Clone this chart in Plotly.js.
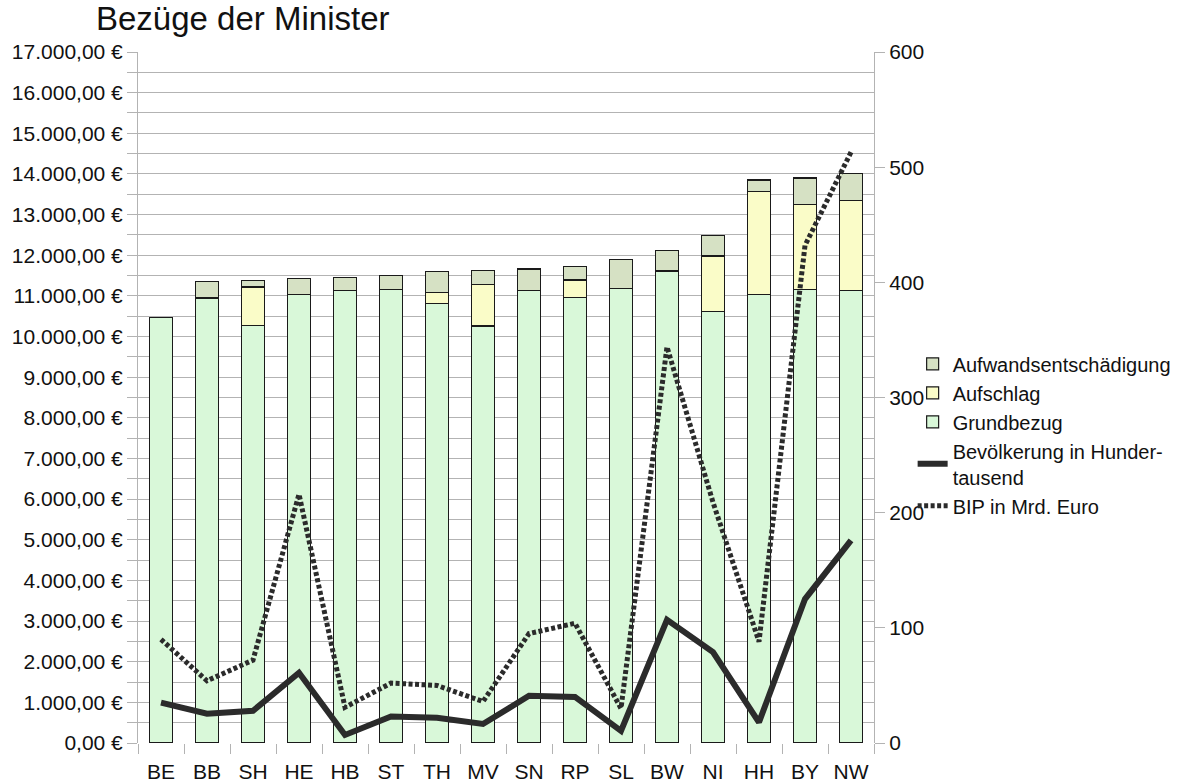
<!DOCTYPE html>
<html>
<head>
<meta charset="utf-8">
<script src="https://cdn.plot.ly/plotly-3.0.1.min.js"></script>
<style>html,body{margin:0;padding:0;background:#fff;}#chart{width:1188px;height:782px;}</style>
</head>
<body>
<div id="chart"></div>
<script>
const laender = ["BE","BB","SH","HE","HB","ST","TH","MV","SN","RP","SL","BW","NI","HH","BY","NW"];
const grundbezug = [10470,10950,10280,11040,11140,11150,10820,10260,11140,10970,11180,11610,10610,11040,11160,11130];
const aufschlag = [null,null,940,null,null,null,270,1020,null,420,null,null,1370,2530,2090,2220];
const aufwand = [null,410,150,390,320,360,510,350,520,330,710,510,500,280,650,660];
const bevoelkerung = [35,25.5,28,61,7,23,22,16.5,41,40,10.5,107,79,18,125,176];
const bip = [90,54,72,216,31,52,50,36,95,104,30,344,209,88,432,513];

const barLine = {color:'#1a1a1a', width:1.2};
const font = {family:'"Liberation Sans", Arial, sans-serif', color:'#111'};

const traces = [
  {type:'bar', name:'Grundbezug', x:laender, y:grundbezug, marker:{color:'#d9f8d9', line:barLine}, legendrank:3},
  {type:'bar', name:'Aufschlag', x:laender, y:aufschlag, marker:{color:'#fafcc8', line:barLine}, legendrank:2},
  {type:'bar', name:'Aufwandsentschädigung', x:laender, y:aufwand, marker:{color:'#d6e1c4', line:barLine}, legendrank:1},
  {type:'scatter', mode:'lines', name:'Bevölkerung in Hunder-<br>tausend', x:laender, y:bevoelkerung, yaxis:'y2',
    line:{color:'#2b2b2b', width:6}, legendrank:4},
  {type:'scatter', mode:'lines', name:'BIP in Mrd. Euro', x:laender, y:bip, yaxis:'y2',
    line:{color:'#2b2b2b', width:5, dash:'4px,2.5px'}, legendrank:5}
];

const layout = {
  width:1188, height:782,
  margin:{l:138, r:314, t:52, b:39, autoexpand:false},
  paper_bgcolor:'#fff', plot_bgcolor:'#fff',
  font:Object.assign({size:21}, font),
  separators:',.',
  title:{text:'Bezüge der Minister', x:96/1188, xanchor:'left', y:1-18/782, yanchor:'middle', font:Object.assign({}, font, {size:33})},
  barmode:'stack', bargap:0.5,
  xaxis:{type:'category', tickson:'boundaries', ticks:'outside', ticklen:10, tickcolor:'#b3b3b3', automargin:false,
    showgrid:false, showline:false, tickfont:{size:21}, zeroline:false, ticklabelstandoff:14},
  yaxis:{range:[0,17000], dtick:1000, tickformat:',.2f', ticksuffix:' €', showgrid:true, gridcolor:'#b3b3b3', gridwidth:1,
    ticks:'outside', ticklen:10, tickcolor:'#b3b3b3', showline:true, linecolor:'#b3b3b3', zeroline:false, automargin:false,
    minor:{dtick:500, showgrid:true, gridcolor:'#b3b3b3', ticks:'outside', ticklen:10, tickcolor:'#b3b3b3'},
    tickfont:{size:21}, fixedrange:true},
  yaxis2:{overlaying:'y', side:'right', range:[0,600], dtick:100, showgrid:false, zeroline:false, automargin:false,
    ticks:'outside', ticklen:10, tickcolor:'#b3b3b3', showline:true, linecolor:'#b3b3b3', tickfont:{size:21}},
  legend:{x:1.0525, xanchor:'left', y:0.577, yanchor:'top', traceorder:'normal', font:{size:20},
    bgcolor:'rgba(0,0,0,0)', itemwidth:30, tracegroupgap:0},
  showlegend:true
};

Plotly.newPlot('chart', traces, layout, {displayModeBar:false, staticPlot:true});
</script>
</body>
</html>
